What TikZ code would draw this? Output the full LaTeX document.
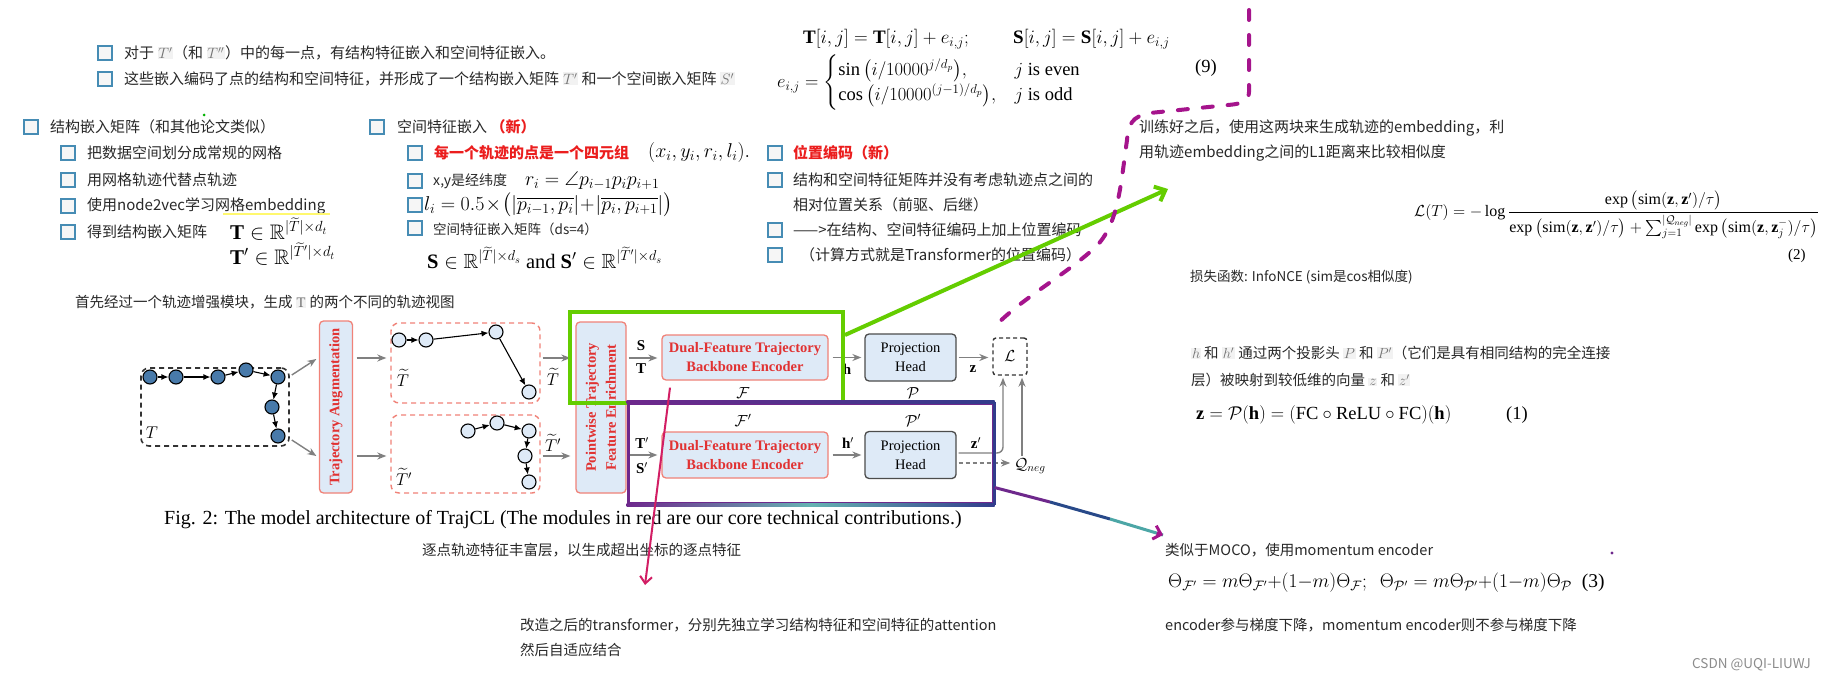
\RequirePackage{fix-cm}
\documentclass[tikz,border=0pt]{standalone}
\usepackage{amsmath,amssymb}
\usepackage{fontspec}
\setmainfont{Liberation Serif}
\newfontfamily\cjk{Noto Sans CJK SC}
\usetikzlibrary{arrows.meta,calc}
\definecolor{cbblue}{RGB}{70,140,180}
\definecolor{cbfill}{RGB}{246,246,246}
\definecolor{txt}{RGB}{40,40,40}
\definecolor{redt}{RGB}{235,30,30}
\definecolor{dred}{RGB}{225,50,50}
\definecolor{boxred}{RGB}{240,130,120}
\definecolor{lblue}{RGB}{222,234,247}
\definecolor{nodeb}{RGB}{72,122,170}
\definecolor{arrgray}{RGB}{128,128,128}
\definecolor{grn}{RGB}{100,205,0}
\definecolor{purp}{RGB}{110,40,140}
\definecolor{pblue}{RGB}{50,60,140}
\definecolor{magd}{RGB}{165,20,140}
\definecolor{pinkar}{RGB}{210,30,100}
\definecolor{yel}{RGB}{255,248,110}
\newcommand\fsl[2]{\fontsize{#1}{#2}\selectfont}
\newcommand\hlm[1]{{\setlength\fboxsep{0.8pt}\colorbox{black!5}{\color{black!55}$#1$}}}
\begin{document}
\begin{tikzpicture}[x=1pt,y=-1pt,
  cbox/.style={draw=cbblue,fill=cbfill,line width=1.1pt,minimum size=14pt,inner sep=0pt},
  ct/.style={anchor=west,inner sep=0pt,text=txt,font=\cjk\fsl{15}{18}},
  mt/.style={anchor=west,inner sep=0pt,text=black},
  trn/.style={circle,draw=black,line width=1.1pt,minimum size=14pt,inner sep=0pt},
  tdark/.style={trn,fill=nodeb},
  tlight/.style={trn,fill=lblue},
  tarr/.style={-{Latex[length=7pt,width=6pt]},line width=1.1pt},
  garr/.style={-{Stealth[length=9pt,width=7pt]},draw=arrgray,line width=1.4pt},
  redbox/.style={draw=boxred,fill=lblue,line width=1.3pt,rounded corners=4pt,inner sep=0pt},
  grybox/.style={draw=black!70,fill=lblue,line width=1.3pt,rounded corners=4pt,inner sep=0pt},
  rdash/.style={draw=boxred,dash pattern=on 5pt off 4pt,line width=1.4pt,rounded corners=8pt,inner sep=0pt},
  lab/.style={inner sep=0pt,font=\fsl{15}{18}},
]
\fill[white] (0,0) rectangle (1830,682);
\useasboundingbox (0,0) rectangle (1830,682);

% ---------- top lines ----------
\node[cbox] (c01) at (105,53) {};
\node[ct] (t01) at (124,53) {对于 \hlm{T'}（和 \hlm{T''}）中的每一点，有结构特征嵌入和空间特征嵌入。};
\node[cbox] (c02) at (105,79) {};
\node[ct] (t02) at (124,79) {这些嵌入编码了点的结构和空间特征，并形成了一个结构嵌入矩阵 \hlm{T'} 和一个空间嵌入矩阵 \hlm{S'}};
\fill[green!70!black] (204,115) circle (1.5);

% ---------- column 1 ----------
\node[cbox] (c11) at (31,127) {};
\node[ct] (t11) at (50,127) {结构嵌入矩阵（和其他论文类似）};
\node[cbox] (c12) at (68,153) {};
\node[ct] (t12) at (87,153) {把数据空间划分成常规的网格};
\node[cbox] (c13) at (68,180) {};
\node[ct] (t13) at (87,180) {用网格轨迹代替点轨迹};
\node[cbox] (c14) at (68,206) {};
\node[ct] (t14) at (87,206) {使用node2vec学习网格embedding};
\draw[yel,line width=2pt] (223,214) -- (330,214);
\node[cbox] (c15) at (68,232) {};
\node[ct] (t15) at (87,232) {得到结构嵌入矩阵};
\node[mt,font=\fsl{21}{22}] (m11) at (230,229) {$\mathbf{T}\in\mathbb{R}^{|\widetilde{T}|\times d_t}$};
\node[mt,font=\fsl{21}{22}] (m12) at (230,254) {$\mathbf{T}'\in\mathbb{R}^{|\widetilde{T}'|\times d_t}$};

% ---------- column 2 ----------
\node[cbox] (c21) at (377,127) {};
\node[ct] (t21) at (397,127) {空间特征嵌入 {\color{redt}\bfseries（新）}};
\node[cbox] (c22) at (415,153) {};
\node[ct] (t22) at (434,153) {\color{redt}\bfseries 每一个轨迹的点是一个四元组};
\node[mt,font=\fsl{20}{22}] (m22) at (648,153) {$(x_i,y_i,r_i,l_i).$};
\node[cbox] (c23) at (415,181) {};
\node[ct,font=\cjk\fsl{14}{16}] (t23) at (433,181) {x,y是经纬度};
\node[mt,font=\fsl{20}{22}] (m23) at (525,181) {$r_i=\angle p_{i-1}p_ip_{i+1}$};
\node[cbox] (c24) at (415,205) {};
\node[mt,font=\fsl{20}{22}] (m24) at (424,205) {$l_i=0.5\!\times\!\big(|\overline{p_{i-1},p_i}|\!+\!|\overline{p_i,p_{i+1}}|\big)$};
\node[cbox] (c25) at (415,228) {};
\node[ct,font=\cjk\fsl{13.5}{16}] (t25) at (433,229) {空间特征嵌入矩阵（ds=4）};
\node[mt,font=\fsl{20.5}{22}] (m25) at (427,258) {$\mathbf{S}\in\mathbb{R}^{|\widetilde{T}|\times d_s}$ and $\mathbf{S}'\in\mathbb{R}^{|\widetilde{T}'|\times d_s}$};

% ---------- column 3 ----------
\node[cbox] (c31) at (775,153) {};
\node[ct] (t31) at (793,153) {\color{redt}\bfseries 位置编码（新）};
\node[cbox] (c32) at (775,180) {};
\node[ct] (t32) at (793,180) {结构和空间特征矩阵并没有考虑轨迹点之间的};
\node[ct] (t33) at (793,205) {相对位置关系（前驱、后继）};
\node[cbox] (c34) at (775,230) {};
\node[ct] (t34) at (793,230) {——>在结构、空间特征编码上加上位置编码};
\node[cbox] (c35) at (775,255) {};
\node[ct] (t35) at (800,255) {（计算方式就是Transformer的位置编码）};

% ---------- top equations ----------
\node[mt,font=\fsl{19}{21}] (e1) at (803,39) {$\mathbf{T}[i,j]=\mathbf{T}[i,j]+e_{i,j};$};
\node[mt,font=\fsl{19}{21}] (e2) at (1013,39) {$\mathbf{S}[i,j]=\mathbf{S}[i,j]+e_{i,j}$};
\node[mt,font=\fsl{18.5}{21}] (e3) at (777,83) {$e_{i,j}=\begin{cases}\sin\big(i/10000^{j/d_p}\big), & j\text{ is even}\\ \cos\big(i/10000^{(j-1)/d_p}\big), & j\text{ is odd}\end{cases}$};
\node[mt,font=\fsl{18.5}{21}] (e4) at (1195,68) {(9)};

% ---------- right texts ----------
\node[ct] (r1) at (1139,128) {训练好之后，使用这两块来生成轨迹的embedding，利};
\node[ct] (r2) at (1139,153) {用轨迹embedding之间的L1距离来比较相似度};
\node[mt,font=\fsl{16}{18}] (loss) at (1414,215) {$\displaystyle\mathcal{L}(T)=-\log\frac{\exp\big(\mathrm{sim}(\mathbf{z},\mathbf{z}')/\tau\big)}{\exp\big(\mathrm{sim}(\mathbf{z},\mathbf{z}')/\tau\big)+\sum_{j=1}^{|\mathcal{Q}_{neg}|}\exp\big(\mathrm{sim}(\mathbf{z},\mathbf{z}_j^-)/\tau\big)}$};
\node[mt,font=\fsl{15}{17}] (loss2) at (1788,256) {(2)};
\node[ct,font=\cjk\fsl{13.5}{16}] (r3) at (1190,277) {损失函数: InfoNCE (sim是cos相似度)};
\node[ct,font=\cjk\fsl{14.5}{17}] (r4) at (1191,353) {\hlm{h} 和 \hlm{h'} 通过两个投影头 \hlm{P} 和 \hlm{P'}（它们是具有相同结构的完全连接};
\node[ct,font=\cjk\fsl{14.5}{17}] (r5) at (1191,380) {层）被映射到较低维的向量 \hlm{z} 和 \hlm{z'}};
\node[mt,font=\fsl{18.5}{20}] (zeq) at (1196,415) {$\mathbf{z}=\mathcal{P}(\mathbf{h})=(\mathrm{FC}\circ\mathrm{ReLU}\circ\mathrm{FC})(\mathbf{h})$};
\node[mt,font=\fsl{18.5}{20}] (zeq1) at (1506,415) {(1)};
\node[ct,font=\cjk\fsl{14.5}{17}] (r6) at (1165,550) {类似于MOCO，使用momentum encoder};
\fill[purp] (1612,553) circle (1.6);
\node[mt,font=\fsl{19.5}{21}] (th) at (1168,583) {$\Theta_{\mathcal{F}'}=m\Theta_{\mathcal{F}'}{+}(1{-}m)\Theta_{\mathcal{F}};\ \ \Theta_{\mathcal{P}'}=m\Theta_{\mathcal{P}'}{+}(1{-}m)\Theta_{\mathcal{P}}$\ \ (3)};
\node[ct,font=\cjk\fsl{14.5}{17}] (r7) at (1165,625) {encoder参与梯度下降，momentum encoder则不参与梯度下降};
\node[ct,font=\cjk\fsl{13.5}{16},text=black!45] (csdn) at (1692,665) {CSDN @UQI-LIUWJ};

% ---------- bottom middle ----------
\node[ct,font=\cjk\fsl{14.5}{17}] (b1) at (520,625) {改造之后的transformer，分别先独立学习结构特征和空间特征的attention};
\node[ct,font=\cjk\fsl{14.5}{17}] (b2) at (520,650) {然后自适应结合};
\node[ct,font=\cjk\fsl{14.5}{17}] (b3) at (422,550) {逐点轨迹特征丰富层，以生成超出坐标的逐点特征};
\node[mt,font=\fsl{20}{22}] (cap) at (164,520) {Fig. 2: The model architecture of TrajCL (The modules in red are our core technical contributions.)};
\node[ct,font=\cjk\fsl{14.5}{17}] (b4) at (75,302) {首先经过一个轨迹增强模块，生成 \hlm{\mathrm{T}} 的两个不同的轨迹视图};

% ---------- diagram ----------
\node[draw=black!80,dash pattern=on 5pt off 4pt,line width=1.6pt,rounded corners=8pt,minimum width=148pt,minimum height=78pt] (Tbox) at (215,407) {};
\node[tdark] (n1) at (150,377) {};
\node[tdark] (n2) at (176,377) {};
\node[tdark] (n3) at (218,377) {};
\node[tdark] (n4) at (246,370) {};
\node[tdark] (n5) at (278,377) {};
\node[tdark] (n6) at (272,407) {};
\node[tdark] (n7) at (278,436) {};
\draw[tarr] (n1)--(n2); \draw[tarr] (n2)--(n3); \draw[tarr] (n3)--(n4);
\draw[tarr] (n4)--(n5); \draw[tarr] (n5)--(n6); \draw[tarr] (n6)--(n7);
\node[lab,font=\fsl{17}{18}] (lT) at (152,433) {$T$};

\node[redbox,minimum width=33pt,minimum height=172pt] (aug) at (336,407) {};
\node[rotate=90,text=dred,font=\bfseries\fsl{14.5}{18}] (augt) at (aug.center) {Trajectory Augmentation};

\node[rdash,minimum width=149pt,minimum height=80pt] (Tu) at (465.5,363) {};
\node[tlight] (u1) at (399,340) {};
\node[tlight] (u2) at (426,340) {};
\node[tlight] (u3) at (496,332) {};
\node[tlight] (u4) at (529,392) {};
\draw[tarr] (u1)--(u2); \draw[tarr] (u2)--(u3); \draw[tarr] (u3)--(u4);
\node[lab,font=\fsl{17}{18}] (lTu) at (403,378) {$\widetilde{T}$};

\node[rdash,minimum width=149pt,minimum height=78pt] (Tl) at (465.5,454) {};
\node[tlight] (l1) at (468,431) {};
\node[tlight] (l2) at (497,423) {};
\node[tlight] (l3) at (529,431) {};
\node[tlight] (l4) at (525,456) {};
\node[tlight] (l5) at (529,482) {};
\draw[tarr] (l1)--(l2); \draw[tarr] (l2)--(l3); \draw[tarr] (l3)--(l4); \draw[tarr] (l4)--(l5);
\node[lab,font=\fsl{17}{18}] (lTl) at (404,477) {$\widetilde{T}'$};

\draw[garr] ($(Tbox.east)+(2,-32)$) -- ($(aug.west)+(-2.5,-48)$);
\draw[garr] ($(Tbox.east)+(2,33)$) -- ($(aug.west)+(-2.5,49)$);
\draw[garr] ($(aug.east)+(3.5,-49)$) -- ($(Tu.west)+(-4,-5)$);
\draw[garr] ($(aug.east)+(3.5,49)$) -- ($(Tl.west)+(-4,2)$);

\node[redbox,minimum width=50pt,minimum height=171pt] (pw) at (601,407.5) {};
\node[rotate=90,text=dred,font=\bfseries\fsl{14.5}{20},align=center] (pwt) at (pw.center) {Pointwise Trajectory\\Feature Enrichment};
\draw[garr] ($(Tu.east)+(2,-5)$) -- ($(pw.west)+(-5,-49.5)$);
\draw[garr] ($(Tl.east)+(2,2)$) -- ($(pw.west)+(-5,48.5)$);
\node[lab,font=\fsl{17}{18}] (lT1) at (553,377) {$\widetilde{T}$};
\node[lab,font=\fsl{17}{18}] (lT2) at (553,443) {$\widetilde{T}'$};

\node[redbox,minimum width=166pt,minimum height=45pt,align=center,text=dred,font=\bfseries\fsl{14.5}{19}] (enc1) at (745,357.5) {Dual-Feature Trajectory\\Backbone Encoder};
\node[redbox,minimum width=166pt,minimum height=46pt,align=center,text=dred,font=\bfseries\fsl{14.5}{19}] (enc2) at (745,455) {Dual-Feature Trajectory\\Backbone Encoder};
\node[grybox,minimum width=91pt,minimum height=47pt,align=center,font=\fsl{14.5}{19}] (ph1) at (910.5,357.5) {Projection\\Head};
\node[grybox,minimum width=91pt,minimum height=47pt,align=center,font=\fsl{14.5}{19}] (ph2) at (910.5,455) {Projection\\Head};
\node[draw=black!80,dash pattern=on 4pt off 3pt,line width=1.4pt,rounded corners=3pt,minimum width=34pt,minimum height=37pt,font=\fsl{16}{18}] (Lb) at (1010,356.5) {$\mathcal{L}$};
\node[lab,font=\fsl{16}{18}] (Q) at (1030,466) {$\mathcal{Q}_{neg}$};

\node[lab,font=\fsl{16}{18}] (lF) at (743,393) {$\mathcal{F}$};
\node[lab,font=\fsl{16}{18}] (lP) at (913,393) {$\mathcal{P}$};
\node[lab,font=\fsl{16}{18}] (lF2) at (743,420) {$\mathcal{F}'$};
\node[lab,font=\fsl{16}{18}] (lP2) at (913,420) {$\mathcal{P}'$};

\draw[garr] ($(pw.east)+(2,-49.5)$) -- ($(enc1.west)+(-4,0.5)$);
\node[lab] (lS) at (641,346) {$\mathbf{S}$};
\node[lab] (lTT) at (641,369) {$\mathbf{T}$};
\draw[garr] ($(pw.east)+(2,47.5)$) -- ($(enc2.west)+(-4,0)$);
\node[lab] (lT3) at (642,443) {$\mathbf{T}'$};
\node[lab] (lS3) at (642,468) {$\mathbf{S}'$};
\draw[garr] ($(enc1.east)+(4,0)$) -- ($(ph1.west)+(-3,0)$);
\node[lab] (lh) at (847,369) {$\mathbf{h}$};
\draw[garr] ($(enc2.east)+(4,0)$) -- ($(ph2.west)+(-3,0)$);
\node[lab] (lh2) at (848,443) {$\mathbf{h}'$};
\draw[garr] ($(ph1.east)+(2,0)$) -- ($(Lb.west)+(-4,1)$);
\node[lab] (lz) at (973,369) {$\mathbf{z}$};
\draw[garr,rounded corners=6pt] ($(ph2.east)+(2,-2)$) -| ($(Lb.south)+(-7,2)$);
\node[lab] (lz2) at (976,443) {$\mathbf{z}'$};
\draw[garr] ($(Q.north)+(-8,-2)$) -- ($(Lb.south)+(12,2)$);
\draw[garr,dash pattern=on 4pt off 3pt] ($(ph2.east)+(2,8)$) -- ($(Q.west)+(-4,-3)$);

% ---------- highlight annotations ----------
\node[draw=grn,line width=4pt,minimum width=273pt,minimum height=91pt,inner sep=0pt] (gbox) at (706.5,357.5) {};
\node[draw=purp,line width=3pt,minimum width=365pt,minimum height=100pt,inner sep=0pt] (pbox) at (810.5,453) {};
\draw[pblue,line width=3pt] (pbox.north east) -- (pbox.south east);
\shade[left color=purp,right color=pblue,middle color=teal!60] ($(pbox.south west)+(0,-1.5)$) rectangle ($(pbox.south east)+(0,1.5)$);
\shade[left color=purp,right color=pblue] ($(pbox.north west)+(0,-1.5)$) rectangle ($(pbox.north east)+(0,1.5)$);

\coordinate (gtip) at (1168,189);
\draw[grn,line width=4pt,-{Straight Barb[length=9pt,width=16pt]}] ($(gbox.north east)+(0,25)$) -- (gtip);

\coordinate (ptip) at (1163,535);
\coordinate (pm1) at (1050,502);
\coordinate (pm2) at (1110,519);
\draw[purp,line width=3pt] ($(pbox.south east)+(0,-17)$) -- (pm1);
\draw[pblue!80!teal,line width=3pt] (pm1) -- (pm2);
\draw[teal!70,line width=3pt] (pm2) -- (ptip);
\draw[magd,line width=3pt,-{Straight Barb[length=7pt,width=14pt]}] ($(ptip)!0.12!(pm2)$) -- (ptip);

\coordinate (ktip) at (645,585);
\draw[pinkar,line width=2pt,-{Straight Barb[length=7pt,width=12pt]}] ($(enc1.south)+(-75,7)$) -- (ktip);

\draw[magd,line width=4pt,line cap=round,dash pattern=on 10pt off 15pt]
  (1249,10) -- (1249,92) .. controls (1249,102) and (1240,104) .. (1228,105)
  -- (1150,113) .. controls (1132,116) and (1128,125) .. (1127,140)
  .. controls (1120,190) and (1118,230) .. (1090,252)
  .. controls (1060,278) and (1020,300) .. ($(Lb.north)+(-16,-10)$);
\end{tikzpicture}
\end{document}
